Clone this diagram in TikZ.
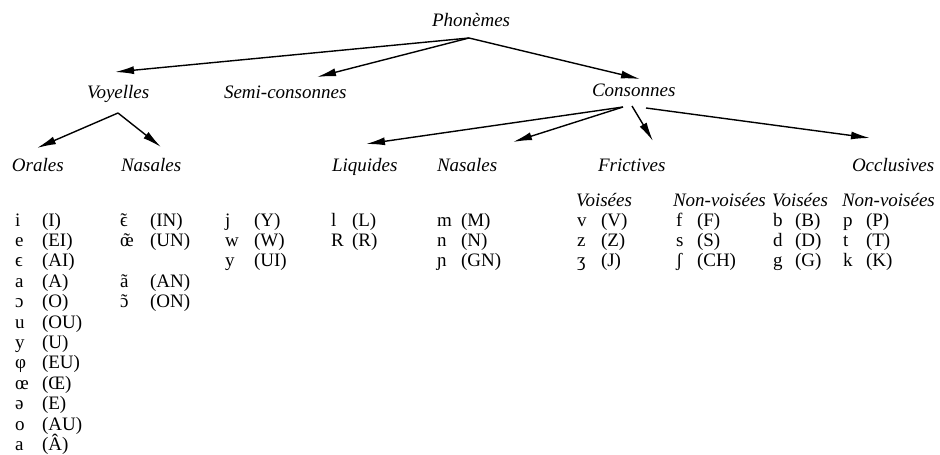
\documentclass[tikz,border=0pt]{standalone}
\usepackage{fontspec}
\setmainfont{Liberation Serif}
\usetikzlibrary{arrows.meta}
% nasal vowel: a spacing tilde set over the letter
\newcommand\nas[1]{\ooalign{#1\cr\hidewidth\char"02DC\hidewidth\cr}}
\begin{document}
\begin{tikzpicture}[x=1pt,y=-1pt,
  every node/.style={inner sep=0pt, outer sep=0pt, anchor=base west,
    font=\fontsize{19}{20}\selectfont},
  head/.style={font=\fontsize{19}{20}\selectfont\itshape},
  arr/.style={line width=1.4pt, -{Latex[length=19pt,width=8pt]}},
]
\useasboundingbox (0,0) rectangle (940,455);

% ---- category headings
\node[head] (ph)   at (432,26)  {Phonèmes};
\node[head] (voy)  at (87,98)   {Voyelles};
\node[head] (semi) at (224,98)  {Semi-consonnes};
\node[head] (cons) at (592,96)  {Consonnes};
\node[head] (orl)  at (12,171)  {Orales};
\node[head] (nasv) at (121,171) {Nasales};
\node[head] (liq)  at (332,171) {Liquides};
\node[head] (nasc) at (437,171) {Nasales};
\node[head] (fric) at (598,171) {Frictives};
\node[head] (occl) at (852,171) {Occlusives};
\node[head] (fv)   at (576,206) {Voisées};
\node[head] (fnv)  at (673,206) {Non-voisées};
\node[head] (ov)   at (772,206) {Voisées};
\node[head] (onv)  at (842,206) {Non-voisées};

% ---- arrow end points
\coordinate (ph-root)   at (469,38);
\coordinate (voy-in)    at (115,72);
\coordinate (semi-in)   at (317,77);
\coordinate (cons-in)   at (640,79);
\coordinate (voy-root)  at (118,113);
\coordinate (orl-in)    at (37,148);
\coordinate (nasv-in)   at (161,147);
\coordinate (cons-rootl) at (623,107);
\coordinate (cons-rootm) at (632,106);
\coordinate (cons-rootr) at (646,108);
\coordinate (liq-in)    at (366,144);
\coordinate (nasc-in)   at (513,142);
\coordinate (fric-in)   at (653,141);
\coordinate (occl-in)   at (870,138);

\draw[arr] (ph-root) -- (voy-in);
\draw[arr] (ph-root) -- (semi-in);
\draw[arr] (ph-root) -- (cons-in);
\draw[arr] (voy-root) -- (orl-in);
\draw[arr] (voy-root) -- (nasv-in);
\draw[arr] (cons-rootl) -- (liq-in);
\draw[arr] (cons-rootl) -- (nasc-in);
\draw[arr] (cons-rootm) -- (fric-in);
\draw[arr] (cons-rootr) -- (occl-in);

% ---- phoneme lists: symbol and spelling, one row every 20.4 units
\def\rowy#1{226+20.4*#1}
\foreach \s/\c [count=\k from 0] in {i/(I), e/(EI), ϵ/(AI), a/(A), ɔ/(O),
    u/(OU), y/(U), φ/(EU), œ/(Œ), ə/(E), o/(AU), a/(Â)}
  {\node (orl-s\k) at (15,{\rowy{\k}}) {\s};
   \node (orl-c\k) at (42,{\rowy{\k}}) {\c};}
\foreach \s/\c/\k in {{\nas{ϵ}}/(IN)/0, {\nas{œ}}/(UN)/1, ã/(AN)/3, {\nas{ɔ}}/(ON)/4}
  {\node (nasv-s\k) at (120,{\rowy{\k}}) {\s};
   \node (nasv-c\k) at (150,{\rowy{\k}}) {\c};}
\foreach \s/\c [count=\k from 0] in {j/(Y), w/(W), y/(UI)}
  {\node (semi-s\k) at (225,{\rowy{\k}}) {\s};
   \node (semi-c\k) at (254,{\rowy{\k}}) {\c};}
\foreach \s/\c [count=\k from 0] in {l/(L), R/(R)}
  {\node (liq-s\k) at (331,{\rowy{\k}}) {\s};
   \node (liq-c\k) at (352,{\rowy{\k}}) {\c};}
\foreach \s/\c [count=\k from 0] in {m/(M), n/(N), ɲ/(GN)}
  {\node (nasc-s\k) at (437,{\rowy{\k}}) {\s};
   \node (nasc-c\k) at (461,{\rowy{\k}}) {\c};}
\foreach \s/\c [count=\k from 0] in {v/(V), z/(Z), ʒ/(J)}
  {\node (fv-s\k) at (577,{\rowy{\k}}) {\s};
   \node (fv-c\k) at (601,{\rowy{\k}}) {\c};}
\foreach \s/\c [count=\k from 0] in {f/(F), s/(S), ʃ/(CH)}
  {\node (fnv-s\k) at (676,{\rowy{\k}}) {\s};
   \node (fnv-c\k) at (697,{\rowy{\k}}) {\c};}
\foreach \s/\c [count=\k from 0] in {b/(B), d/(D), g/(G)}
  {\node (ov-s\k) at (773,{\rowy{\k}}) {\s};
   \node (ov-c\k) at (795,{\rowy{\k}}) {\c};}
\foreach \s/\c [count=\k from 0] in {p/(P), t/(T), k/(K)}
  {\node (onv-s\k) at (843,{\rowy{\k}}) {\s};
   \node (onv-c\k) at (866,{\rowy{\k}}) {\c};}
\end{tikzpicture}
\end{document}
